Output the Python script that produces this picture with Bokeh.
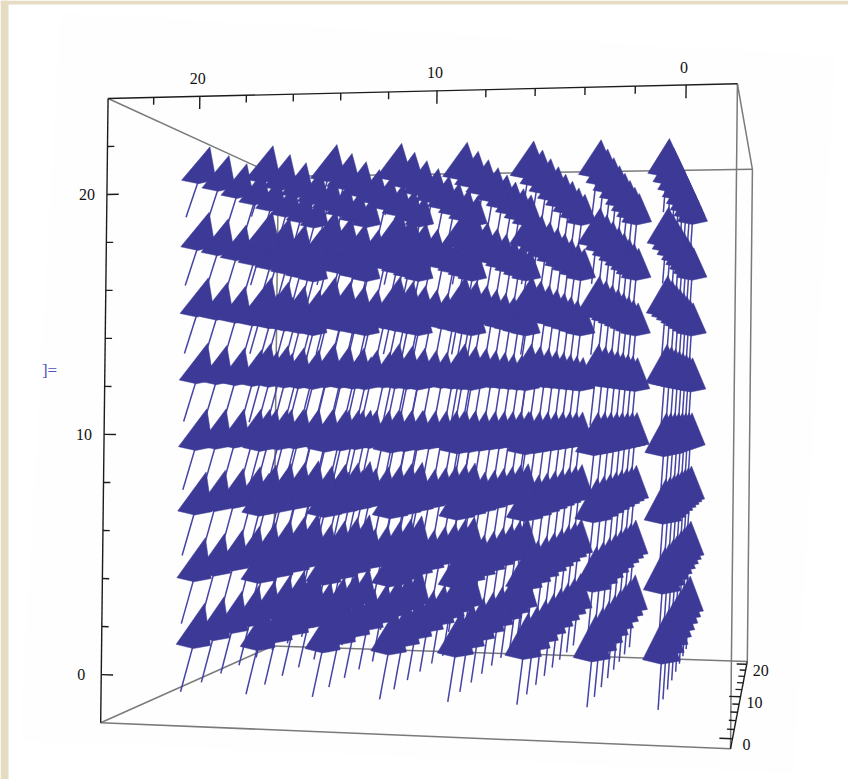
import numpy as np
from bokeh.plotting import figure
from bokeh.models import Range1d
from bokeh.core.properties import value
from bokeh.embed import file_html
from bokeh.resources import INLINE

# --- data ----------------------------------------------------------------
x_levels = [1.0, 3.9, 6.8, 9.7, 12.6, 15.5, 18.4, 21.3]
y_levels = [-0.95, 1.95, 4.85, 7.65, 10.55, 13.45, 16.35, 19.25]
z_levels = [0.0, 2.5, 5.0, 7.5, 10.0, 12.5, 15.0, 17.5]
arrow_vector = [0.0, 3.45, 2.8]
head_fraction = 0.48
head_half_width = 0.78
head_drop = 0.16

x_major = [0, 10, 20]
y_major = [0, 10, 20]
z_major = [0, 10, 20]
x_minor = [2, 4, 6, 8, 12, 14, 16, 18, 22]
y_minor = [2, 4, 6, 8, 12, 14, 16, 18, 22]
z_minor = [2, 4, 6, 8, 12, 14, 16, 18]

box_lo = [-2.0, -2.0, -2.0]
box_hi = [24.0, 24.0, 21.0]

# measured screen positions of box corners and major ticks: calibrate the view
cal_world = [
    (24, 24, -2), (-2, 24, -2), (-2, -2, -2), (24, -2, -2),
    (24, 24, 21), (-2, 24, 21), (-2, -2, 21), (24, -2, 21),
    (20, 24, -2), (10, 24, -2), (0, 24, -2),
    (24, 20, -2), (24, 10, -2), (24, 0, -2),
    (-2, -2, 0), (-2, -2, 10), (-2, -2, 20),
]
cal_screen = [
    (107, 97), (737, 84), (732, 748), (100, 722),
    (280, 177), (753, 168), (747, 659), (270, 647),
    (199, 95), (432, 91), (686, 86),
    (106, 193), (105, 433), (103, 674),
    (733, 738), (738, 700), (746, 662),
]
plate_x = [60, 835, 793, 19]
plate_y = [12, 55, 773, 740]
frame_left = [0, 0]
frame_right = [8, 848]
frame_top = [0, 0]
frame_bottom = [779, 4]

INK = "#3c3a96"
AXIS = "#1c1c1c"
EDGE = "#7a7a7a"
PLATE = "#fefefe"
BORDER = "#e6dcc4"

# --- camera ---------------------------------------------------------------
A, b = [], []
for (X, Y, Z), (u, v) in zip(cal_world, cal_screen):
    A.append([X, Y, Z, 1, 0, 0, 0, 0, -u * X, -u * Y, -u * Z]); b.append(u)
    A.append([0, 0, 0, 0, X, Y, Z, 1, -v * X, -v * Y, -v * Z]); b.append(v)
sol = np.linalg.lstsq(np.array(A, float), np.array(b, float), rcond=None)[0]
P = np.append(sol, 1.0).reshape(3, 4)


def project(pts):
    pts = np.atleast_2d(np.asarray(pts, float))
    h = np.c_[pts, np.ones(len(pts))] @ P.T
    return h[:, :2] / h[:, 2:3]


p = figure(width=848, height=779, output_backend="svg", toolbar_location=None,
           x_range=Range1d(0, 848), y_range=Range1d(779, 0),
           x_axis_type=None, y_axis_type=None, min_border=0,
           outline_line_color=None, background_fill_color="white",
           border_fill_color="white")
p.grid.visible = False

p.quad(left=frame_left, right=frame_right, top=frame_top, bottom=frame_bottom,
       fill_color=BORDER, line_color=None)
p.patch(plate_x, plate_y, fill_color=PLATE, line_color=None)

lo, hi = box_lo, box_hi
def corner(i, j, k):
    return (hi[0] if i else lo[0], hi[1] if j else lo[1], hi[2] if k else lo[2])

edges_grey = [
    (corner(1, 1, 0), corner(1, 1, 1)), (corner(0, 1, 0), corner(0, 1, 1)),
    (corner(1, 0, 0), corner(1, 0, 1)),
    (corner(1, 1, 1), corner(0, 1, 1)), (corner(1, 0, 1), corner(0, 0, 1)),
    (corner(1, 1, 1), corner(1, 0, 1)), (corner(0, 1, 1), corner(0, 0, 1)),
    (corner(1, 0, 0), corner(0, 0, 0)), (corner(0, 1, 0), corner(0, 0, 0)),
]
segs = [project(e) for e in edges_grey]
p.multi_line([s[:, 0].tolist() for s in segs], [s[:, 1].tolist() for s in segs],
             line_color=EDGE, line_width=1.5)

# arrows
vec = np.array(arrow_vector)
side = np.array([head_half_width, 0.0, 0.0])
drop = np.array([0.0, -head_drop, 0.0])
stem_x, stem_y, head_x, head_y = [], [], [], []
for z in reversed(z_levels):
    for y in y_levels:
        for x in x_levels:
            tail = np.array([x, y, z], float)
            tip = tail + vec
            base = tip - head_fraction * vec
            s = project([tail, base])
            stem_x.append(s[:, 0].tolist()); stem_y.append(s[:, 1].tolist())
            shape = project([tip, base + side, base + drop, base - side])
            head_x.append(shape[:, 0].tolist()); head_y.append(shape[:, 1].tolist())

p.multi_line(stem_x, stem_y, line_color="#4543a4", line_width=1.5)
p.patches(head_x, head_y, fill_color=INK, line_color=INK, line_width=0.5)

# axes
ax_lines = [(corner(1, 1, 0), corner(0, 1, 0)), (corner(1, 1, 0), corner(1, 0, 0)),
            (corner(0, 0, 0), corner(0, 0, 1))]
tick_major, tick_minor = 0.52, 0.3
for t in x_major + x_minor:
    ln = tick_major if t in x_major else tick_minor
    ax_lines.append(((t, hi[1], lo[2]), (t, hi[1] - ln, lo[2])))
for t in y_major + y_minor:
    ln = tick_major if t in y_major else tick_minor
    ax_lines.append(((hi[0], t, lo[2]), (hi[0] - ln, t, lo[2])))
for t in z_major + z_minor:
    ln = tick_major if t in z_major else tick_minor
    ax_lines.append(((lo[0], lo[1], t), (lo[0] + ln, lo[1], t)))
segs = [project(e) for e in ax_lines]
p.multi_line([s[:, 0].tolist() for s in segs], [s[:, 1].tolist() for s in segs],
             line_color=AXIS, line_width=1.4)


def labels(world, texts, dx, dy):
    q = project(world)
    p.text(q[:, 0].tolist(), q[:, 1].tolist(), text=[str(t) for t in texts],
           x_offset=dx, y_offset=dy, text_align="center", text_baseline="middle",
           text_font=value("Liberation Serif"), text_font_size="16px", text_color="#111111")


labels([(t, hi[1], lo[2]) for t in x_major], x_major, -2, -18)
labels([(hi[0], t, lo[2]) for t in y_major], y_major, -20, 0)
labels([(lo[0], lo[1], t) for t in z_major], z_major, 14, 6)

p.text([49], [370], text=["]="], text_align="center", text_baseline="middle",
       text_font=value("Liberation Serif"), text_font_size="17px", text_color="#5552b4")

open("out.html", "w").write(file_html(p, INLINE))
